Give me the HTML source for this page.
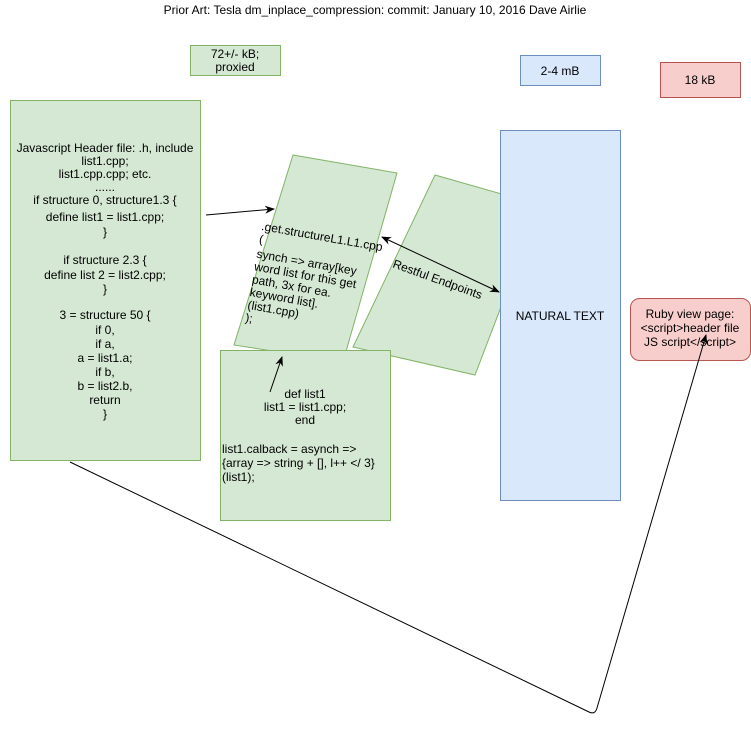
<!DOCTYPE html>
<html><head><style>body{margin:0;background:#fff}svg{display:block}text{font-family:"Liberation Sans",Arial,sans-serif;font-size:12px;fill:#000}</style></head><body>
<svg width="751" height="729" viewBox="0 0 751 729" xmlns="http://www.w3.org/2000/svg">
<defs><marker id="a" markerWidth="10" markerHeight="10" refX="9" refY="5" orient="auto" markerUnits="userSpaceOnUse"><path d="M0,1 L10,5 L0,9 L3,5 Z" fill="#000"/></marker>
<marker id="b" markerWidth="10" markerHeight="10" refX="1" refY="5" orient="auto" markerUnits="userSpaceOnUse"><path d="M10,1 L0,5 L10,9 L7,5 Z" fill="#000"/></marker></defs>
<text x="375" y="14" text-anchor="middle">Prior Art: Tesla dm_inplace_compression: commit: January 10, 2016 Dave Airlie</text>
<rect x="190.5" y="45.5" width="90" height="30" fill="#d5e8d4" stroke="#82b366"/>
<text x="235" y="58" text-anchor="middle">72+/- kB;</text><text x="235" y="71" text-anchor="middle">proxied</text>
<rect x="520.5" y="55.5" width="80" height="30" fill="#dae8fc" stroke="#6c8ebf"/>
<text x="560" y="75" text-anchor="middle">2-4 mB</text>
<rect x="660.5" y="62.5" width="80" height="35" fill="#f8cecc" stroke="#b85450"/>
<text x="700" y="84" text-anchor="middle">18 kB</text>
<rect x="10.5" y="100.5" width="190" height="360" fill="#d5e8d4" stroke="#82b366"/>
<g text-anchor="middle">
<text x="105" y="152">Javascript Header file: .h, include</text>
<text x="105" y="165">list1.cpp;</text>
<text x="105" y="178">list1.cpp.cpp; etc.</text>
<text x="105" y="191">......</text>
<text x="105" y="204">if structure 0, structure1.3 {</text>
<text x="105" y="221">define list1 = list1.cpp;</text>
<text x="105" y="236">}</text>
<text x="105" y="264">if structure 2.3 {</text>
<text x="105" y="279">define list 2 = list2.cpp;</text>
<text x="105" y="293">}</text>
<text x="105" y="319">3 = structure 50 {</text>
<text x="105" y="334">if 0,</text>
<text x="105" y="348">if a,</text>
<text x="105" y="362">a = list1.a;</text>
<text x="105" y="376">if b,</text>
<text x="105" y="390">b = list2.b,</text>
<text x="105" y="404">return</text>
<text x="105" y="418">}</text>
</g>
<polygon points="293,155 397,173 343,362 234,345" fill="#d5e8d4" stroke="#82b366"/>
<polygon points="435,175 540,205 475,375 353,347" fill="#d5e8d4" stroke="#82b366"/>
<g transform="rotate(10 300 250)">
<text x="258" y="237">.get.structureL1.L1.cpp</text>
<text x="258" y="250">(</text>
<text x="258" y="265">synch =&gt; array[key</text>
<text x="258" y="278">word list for this get</text>
<text x="258" y="291">path, 3x for ea.</text>
<text x="258" y="304">keyword list].</text>
<text x="258" y="317">(list1.cpp)</text>
<text x="258" y="330">);</text>
</g>
<text x="392" y="267" transform="rotate(20 392 267)">Restful Endpoints</text>
<rect x="500.5" y="130.5" width="120" height="370" fill="#dae8fc" stroke="#6c8ebf"/>
<text x="560" y="320" text-anchor="middle">NATURAL TEXT</text>
<rect x="220.5" y="350.5" width="170" height="170" fill="#d5e8d4" stroke="#82b366"/>
<g text-anchor="middle">
<text x="305" y="398">def list1</text>
<text x="305" y="411">list1 =  list1.cpp;</text>
<text x="305" y="424">end</text>
</g>
<text x="222" y="453">list1.calback = asynch =&gt;</text>
<text x="222" y="467">{array =&gt; string + [], l++ &lt;/ 3}</text>
<text x="222" y="481">(list1);</text>
<rect x="630.5" y="298.5" width="120" height="62" rx="9" fill="#f8cecc" stroke="#b85450"/>
<g text-anchor="middle">
<text x="690" y="318">Ruby view page:</text>
<text x="690" y="332">&lt;script&gt;header file</text>
<text x="690" y="346">JS script&lt;/script&gt;</text>
</g>
<line x1="206" y1="215" x2="274" y2="209" stroke="#000" marker-end="url(#a)"/>
<line x1="270" y1="392" x2="282" y2="357" stroke="#000" marker-end="url(#a)"/>
<line x1="382" y1="237" x2="499" y2="292" stroke="#000" marker-start="url(#b)" marker-end="url(#a)"/>
<path d="M70,462 L589,712 Q595,715 597,708 L706,335" fill="none" stroke="#000" marker-end="url(#a)"/>
</svg>
</body></html>
